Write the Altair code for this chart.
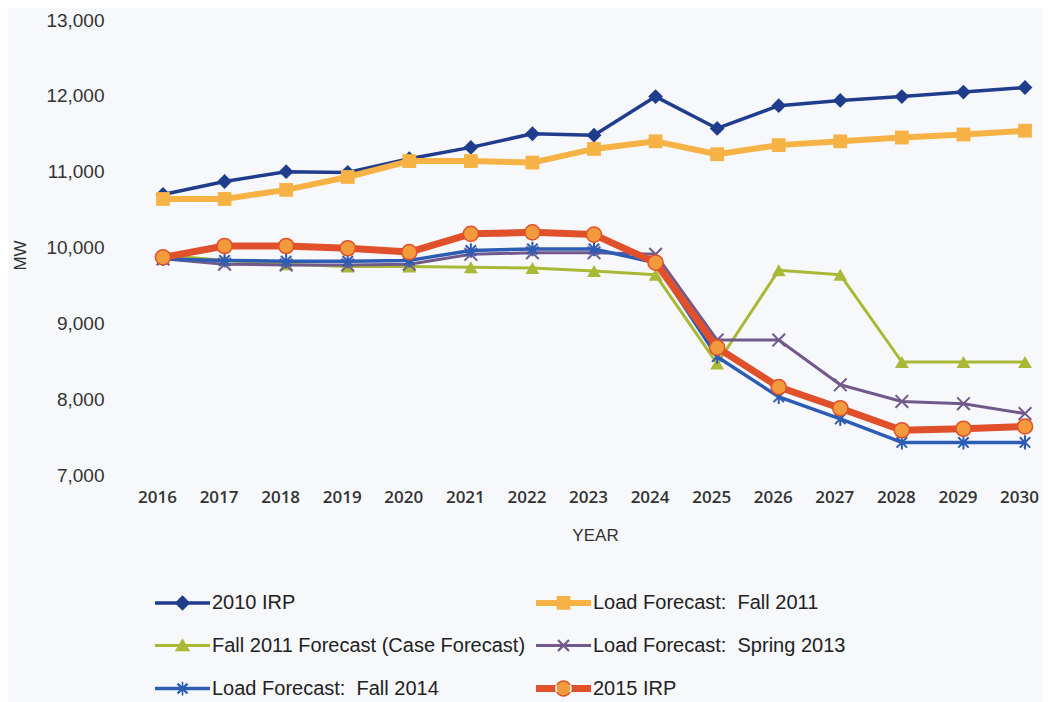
import altair as alt
import pandas as pd

# ---------------- data ----------------
years = list(range(2016, 2031))
series_names = [
    "2010 IRP",
    "Load Forecast:\u00a0 Fall 2011",
    "Fall 2011 Forecast (Case Forecast)",
    "Load Forecast:\u00a0 Spring 2013",
    "Load Forecast:\u00a0 Fall 2014",
    "2015 IRP",
]
irp2010 = [10700, 10870, 11000, 10990, 11170, 11320, 11500, 11480, 11990, 11570, 11870, 11940, 11990, 12050, 12110]
lf_fall2011 = [10640, 10640, 10760, 10930, 11140, 11140, 11120, 11300, 11400, 11230, 11350, 11400, 11450, 11490, 11540]
case_fall2011 = [9900, 9830, 9780, 9750, 9750, 9740, 9730, 9690, 9640, 8470, 9700, 9640, 8490, 8490, 8490]
lf_spring2013 = [9850, 9780, 9770, 9770, 9780, 9910, 9930, 9930, 9910, 8780, 8780, 8190, 7970, 7940, 7810]
lf_fall2014 = [9850, 9830, 9820, 9820, 9830, 9960, 9980, 9980, 9800, 8560, 8030, 7740, 7430, 7430, 7430]
irp2015 = [9870, 10020, 10020, 9990, 9940, 10180, 10200, 10170, 9800, 8680, 8160, 7880, 7590, 7610, 7640]
y_ticks = [7000, 8000, 9000, 10000, 11000, 12000, 13000]

all_values = [irp2010, lf_fall2011, case_fall2011, lf_spring2013, lf_fall2014, irp2015]
codes = ["s1", "s2", "s3", "s4", "s5", "s6"]

rows = []
for name, code, vals in zip(series_names, codes, all_values):
    for yr, v in zip(years, vals):
        rows.append({"year": yr, "MW": v, "series": name, "code": code})
df = pd.DataFrame(rows)

# ---------------- styles ----------------
line_colors = ["#1f3d8c", "#f6b244", "#a9b935", "#715a8b", "#2c5cb4", "#e0512b"]
marker_fill = ["#1f3d8c", "#f6b244", "#a9b935", "#715a8b", "#2c5cb4", "#f39b3c"]
marker_stroke = ["#1f3d8c", "#f6b244", "#a9b935", "#715a8b", "#2c5cb4", "#e0512b"]
line_widths = [3.5, 6, 3, 3, 3.5, 7]

X_PATH = "M-1,-1L1,1M-1,1L1,-1"
AST_PATH = "M-0.8,-0.8L0.8,0.8M-0.8,0.8L0.8,-0.8M0,-1.1L0,1.1"

BG = "#f6f8fc"
LBL = "#333333"

x_enc = alt.X(
    "year:Q",
    scale=alt.Scale(domain=[2015.6264, 2030.2434], nice=False, zero=False),
    axis=alt.Axis(
        values=years, format="d", title="YEAR", grid=False, domain=False,
        ticks=False, tickSize=0, labelPadding=14, labelFont="Open Sans",
        labelFontWeight=600, labelFontSize=17, labelColor=LBL, labelOffset=-6,
        titleFont="Liberation Sans", titleFontSize=17, titleFontWeight="normal",
        titleColor=LBL, titleX=455, titleY=60, titleAlign="center",
        titleBaseline="middle", labelOverlap=False,
    ),
)
y_enc = alt.Y(
    "MW:Q",
    scale=alt.Scale(domain=[7000, 13000], nice=False, zero=False),
    axis=alt.Axis(
        values=y_ticks, format=",d", title="MW", grid=False, domain=False,
        ticks=False, tickSize=0, labelPadding=36, labelFont="Liberation Sans",
        labelFontSize=19, labelColor=LBL, titleFont="Liberation Sans",
        titleFontSize=17, titleFontWeight="normal", titleColor=LBL,
        titleX=-120, titleY=235, titleAlign="center", titleBaseline="middle",
        titleAngle=270,
    ),
)

base = alt.Chart(df)
layers = []
point_specs = [
    dict(shape="diamond", size=220, filled=True),
    dict(shape="square", size=190, filled=True),
    dict(shape="triangle-up", size=190, filled=True),
    dict(shape=X_PATH, size=160, filled=False, strokeWidth=2),
    dict(shape=AST_PATH, size=170, filled=False, strokeWidth=2),
    dict(shape="circle", size=230, filled=True, strokeWidth=1.5),
]
for i, name in enumerate(series_names):
    sub = base.transform_filter(alt.datum.series == name)
    layers.append(
        sub.mark_line(color=line_colors[i], strokeWidth=line_widths[i], strokeJoin="round")
        .encode(x=x_enc, y=y_enc)
    )
    ps = dict(point_specs[i])
    if ps["filled"]:
        ps.update(fill=marker_fill[i], stroke=marker_stroke[i])
        if "strokeWidth" not in ps:
            ps["strokeWidth"] = 0
    else:
        ps.update(stroke=marker_stroke[i])
    layers.append(sub.mark_point(opacity=1, **ps).encode(x=x_enc, y=y_enc))

# ---------------- legend (line part + marker part, overlaid) ----------------
BOUND = "M-1,-0.42L-1,-0.42M1,0.42L1,0.42"

def circ(r):
    return f"M{-r},0A{r},{r} 0 1,0 {r},0A{r},{r} 0 1,0 {-r},0Z"

def rect_path(h):
    return f"M-1,{-h}L1,{-h}L1,{h}L-1,{h}Z"

line_paths = [rect_path(round(w / 2 / 27.5, 3)) + BOUND for w in line_widths]
# 2015 IRP: red ring under the orange circle
line_paths[5] = rect_path(round(line_widths[5] / 2 / 27.5, 3)) + circ(0.3) + BOUND

def xpoly(a, e):
    return (f"M{-a+e},{-a-e}L{a+e},{a-e}L{a-e},{a+e}L{-a-e},{-a+e}Z"
            f"M{-a-e},{a-e}L{a-e},{-a-e}L{a+e},{-a+e}L{-a+e},{a+e}Z")

marker_paths = [
    "M-0.28,0L0,-0.28L0.28,0L0,0.28Z" + BOUND,
    "M-0.25,-0.25L0.25,-0.25L0.25,0.25L-0.25,0.25Z" + BOUND,
    "M0,-0.26L0.28,0.21L-0.28,0.21Z" + BOUND,
    xpoly(0.2, 0.03) + BOUND,
    xpoly(0.18, 0.03) + "M-0.03,-0.25L0.03,-0.25L0.03,0.25L-0.03,0.25Z" + BOUND,
    circ(0.245) + BOUND,
]

leg_common = dict(
    orient="none", legendX=15, legendY=555, columns=2, direction="horizontal",
    title=None, labelFont="Liberation Sans", labelFontSize=20,
    labelColor="#222222", labelLimit=700, labelOffset=2, symbolSize=3025,
    rowPadding=3, columnPadding=10, padding=0, symbolOpacity=1,
    symbolStrokeWidth=0,
)
leg1 = alt.Legend(**leg_common)
label_map = "{" + ",".join(f"'{c}':'{n}'" for c, n in zip(codes, series_names)) + "}"
leg2 = alt.Legend(labelOpacity=0, labelExpr=f"{label_map}[datum.label]", **leg_common)

legend_lines = base.transform_filter("false").mark_point(filled=True, opacity=1, strokeWidth=0).encode(
    color=alt.Color("series:N", scale=alt.Scale(domain=series_names, range=line_colors), legend=leg1),
    shape=alt.Shape("series:N", scale=alt.Scale(domain=series_names, range=line_paths), legend=leg1),
)
legend_marks = base.transform_filter("false").mark_point(filled=True, opacity=1, strokeWidth=0).encode(
    color=alt.Color("code:N", scale=alt.Scale(domain=codes, range=marker_fill), legend=leg2),
    shape=alt.Shape("code:N", scale=alt.Scale(domain=codes, range=marker_paths), legend=leg2),
)

chart = (
    alt.layer(*layers, legend_lines, legend_marks)
    .resolve_scale(color="independent", shape="independent")
    .properties(
        width=900, height=455, background=BG,
        autosize=alt.AutoSizeParams(type="none"),
        padding={"left": 132, "top": 12, "right": 3, "bottom": 227},
    )
    .configure_view(stroke=None)
)

chart.save("out.html", embed_options={"renderer": "svg", "actions": False})
